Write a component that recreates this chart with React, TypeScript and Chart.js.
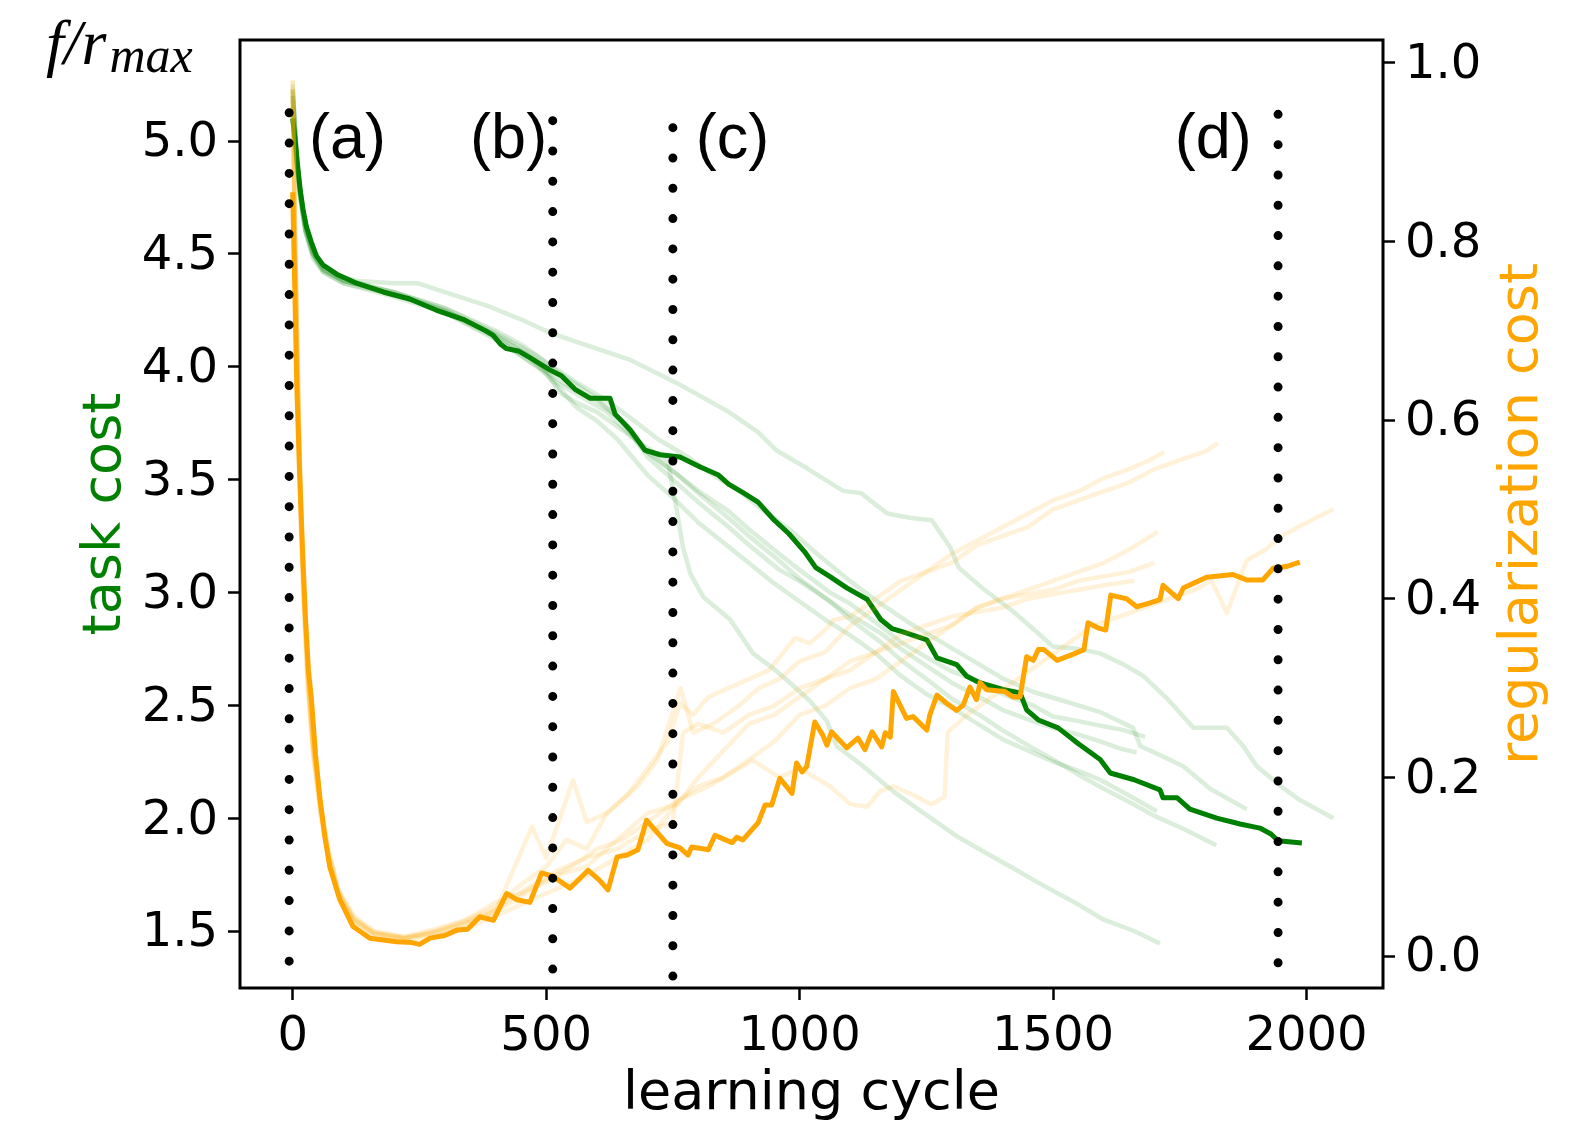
import React, { useEffect, useRef } from 'react';
import { Chart, registerables } from 'chart.js';

Chart.register(...registerables);

// ---------- axis limits & ticks ----------
const xLimits = [-104, 2151];
const taskLimits = [1.2475, 5.4475];
const regLimits = [-0.0358, 1.0254];
const xTicks = [0, 500, 1000, 1500, 2000];
const taskTicks = [1.5, 2.0, 2.5, 3.0, 3.5, 4.0, 4.5, 5.0];
const regTicks = [0.0, 0.2, 0.4, 0.6, 0.8, 1.0];

// ---------- main curves (learning cycle, value) ----------
const taskMain: number[][] = [
  [0, 5.10], [5, 5.0], [10, 4.88], [15, 4.78], [20, 4.70], [27, 4.62], [37, 4.55], [47, 4.49], [60, 4.45],
  [87, 4.41], [126, 4.37], [180, 4.33], [231, 4.30], [284, 4.25], [336, 4.21], [380, 4.16], [395, 4.14],
  [410, 4.10], [422, 4.08], [445, 4.07], [468, 4.04], [508, 3.985], [530, 3.96], [557, 3.90], [587, 3.86],
  [626, 3.86], [636, 3.79], [666, 3.72], [695, 3.63], [725, 3.61], [764, 3.60], [804, 3.556], [840, 3.52],
  [860, 3.48], [890, 3.44], [918, 3.40], [950, 3.32], [979, 3.26], [1010, 3.18], [1032, 3.11], [1060, 3.07],
  [1093, 3.02], [1133, 2.97], [1160, 2.88], [1182, 2.84], [1204, 2.825], [1251, 2.79], [1271, 2.71],
  [1310, 2.68], [1329, 2.63], [1355, 2.60], [1401, 2.57], [1435, 2.555], [1448, 2.48], [1471, 2.435],
  [1510, 2.40], [1550, 2.33], [1593, 2.26], [1613, 2.20], [1660, 2.17], [1711, 2.125], [1717, 2.09],
  [1745, 2.09], [1770, 2.04], [1823, 2.00], [1869, 1.974], [1908, 1.956], [1930, 1.93], [1944, 1.90],
  [1991, 1.89],
];

const regMain: number[][] = [
  [0, 0.855], [4, 0.75], [8, 0.64], [13, 0.55], [19, 0.46], [25, 0.38], [31, 0.32], [37, 0.287], [45, 0.225],
  [54, 0.175], [63, 0.135], [73, 0.10], [93, 0.063], [119, 0.033], [152, 0.020], [205, 0.016], [235, 0.015],
  [250, 0.013], [271, 0.020], [300, 0.023], [324, 0.029], [345, 0.030], [369, 0.044], [396, 0.040],
  [422, 0.070], [442, 0.063], [468, 0.060], [491, 0.093], [514, 0.089], [547, 0.076], [567, 0.087],
  [583, 0.096], [605, 0.085], [622, 0.074], [640, 0.111], [660, 0.113], [681, 0.119], [698, 0.152],
  [738, 0.126], [764, 0.121], [780, 0.113], [787, 0.122], [820, 0.119], [833, 0.135], [867, 0.127],
  [876, 0.133], [888, 0.130], [918, 0.149], [932, 0.169], [945, 0.169], [961, 0.199], [985, 0.182],
  [994, 0.216], [1005, 0.206], [1014, 0.212], [1030, 0.262], [1046, 0.247], [1054, 0.236], [1063, 0.251],
  [1093, 0.233], [1115, 0.244], [1129, 0.231], [1143, 0.251], [1162, 0.234], [1169, 0.250], [1179, 0.245],
  [1185, 0.296], [1211, 0.266], [1224, 0.268], [1251, 0.253], [1257, 0.270], [1271, 0.292], [1290, 0.283],
  [1310, 0.275], [1323, 0.281], [1336, 0.301], [1349, 0.287], [1356, 0.306], [1369, 0.298], [1405, 0.296],
  [1421, 0.290], [1435, 0.290], [1448, 0.335], [1461, 0.331], [1471, 0.343], [1482, 0.343], [1508, 0.331],
  [1540, 0.338], [1561, 0.343], [1569, 0.373], [1590, 0.367], [1604, 0.365], [1614, 0.404], [1645, 0.400],
  [1665, 0.391], [1690, 0.395], [1711, 0.399], [1717, 0.415], [1747, 0.400], [1757, 0.412], [1780, 0.418],
  [1803, 0.424], [1855, 0.427], [1882, 0.421], [1914, 0.421], [1934, 0.434], [1960, 0.436], [1987, 0.441],
];

// ---------- faint individual runs: task cost ----------
const taskRun1: number[][] = [
  [0, 5.25], [8, 4.95], [15, 4.78], [25, 4.64], [40, 4.52], [60, 4.45], [90, 4.40], [130, 4.38], [200, 4.37],
  [246, 4.37], [300, 4.33], [384, 4.27], [450, 4.21], [508, 4.15], [560, 4.11], [600, 4.08], [666, 4.03],
  [720, 3.97], [764, 3.92], [804, 3.87], [860, 3.80], [918, 3.71], [954, 3.63], [1007, 3.56], [1050, 3.50],
  [1086, 3.45], [1121, 3.44], [1173, 3.35], [1220, 3.33], [1261, 3.32], [1297, 3.20], [1314, 3.11],
  [1360, 3.02], [1419, 2.92], [1460, 2.84], [1500, 2.76], [1550, 2.75], [1593, 2.73], [1640, 2.68],
  [1678, 2.63], [1725, 2.53], [1777, 2.40], [1843, 2.40], [1875, 2.32], [1902, 2.23], [1950, 2.14],
  [1987, 2.08], [2053, 2.00],
];
const taskRun2: number[][] = [
  [0, 5.2], [8, 4.92], [15, 4.76], [25, 4.6], [40, 4.48], [60, 4.42], [100, 4.37], [200, 4.31], [300, 4.24],
  [400, 4.13], [450, 4.05], [500, 3.97], [530, 3.88], [560, 3.84], [600, 3.80], [650, 3.72], [700, 3.64],
  [740, 3.58], [755, 3.40], [770, 3.20], [785, 3.08], [810, 2.98], [863, 2.88], [908, 2.73], [950, 2.66],
  [981, 2.60], [1020, 2.52], [1054, 2.43], [1073, 2.32], [1120, 2.24], [1184, 2.12], [1240, 2.03],
  [1310, 1.92], [1380, 1.83], [1420, 1.78], [1474, 1.71], [1540, 1.63], [1600, 1.55], [1660, 1.50],
  [1711, 1.445],
];
const taskRun3: number[][] = [
  [0, 5.22], [8, 4.93], [15, 4.77], [25, 4.62], [40, 4.5], [60, 4.43], [100, 4.38], [200, 4.33], [300, 4.26],
  [400, 4.16], [450, 4.10], [500, 4.02], [560, 3.93], [620, 3.85], [680, 3.75], [720, 3.68], [780, 3.60],
  [830, 3.52], [880, 3.45], [930, 3.36], [980, 3.28], [1040, 3.16], [1100, 3.05], [1160, 2.95], [1220, 2.86],
  [1280, 2.78], [1340, 2.70], [1400, 2.62], [1460, 2.56], [1520, 2.52], [1593, 2.47], [1658, 2.40],
  [1672, 2.32], [1720, 2.27], [1757, 2.23], [1810, 2.13], [1850, 2.08], [1882, 2.04],
];
const taskRun4: number[][] = [
  [0, 5.18], [8, 4.9], [15, 4.75], [25, 4.6], [40, 4.5], [60, 4.43], [100, 4.38], [200, 4.33], [300, 4.25],
  [400, 4.14], [480, 4.03], [520, 3.93], [560, 3.88], [620, 3.80], [700, 3.62], [760, 3.52], [800, 3.45],
  [860, 3.36], [900, 3.28], [960, 3.17], [1000, 3.10], [1060, 3.0], [1100, 2.95], [1160, 2.85], [1200, 2.78],
  [1260, 2.70], [1300, 2.65], [1360, 2.60], [1400, 2.55], [1460, 2.50], [1500, 2.45], [1550, 2.43],
  [1593, 2.41], [1640, 2.39], [1682, 2.36],
];
const taskRun5: number[][] = [
  [0, 5.15], [8, 4.88], [15, 4.74], [25, 4.6], [40, 4.49], [60, 4.42], [100, 4.37], [200, 4.32], [300, 4.24],
  [400, 4.12], [470, 4.02], [540, 3.92], [600, 3.85], [650, 3.76], [700, 3.6], [740, 3.52], [800, 3.40],
  [860, 3.29], [900, 3.21], [960, 3.10], [1000, 3.05], [1060, 2.96], [1100, 2.90], [1160, 2.82], [1200, 2.75],
  [1260, 2.66], [1300, 2.60], [1360, 2.53], [1400, 2.48], [1460, 2.43], [1500, 2.40], [1550, 2.37],
  [1593, 2.34], [1630, 2.31], [1665, 2.29],
];
const taskRun6: number[][] = [
  [0, 5.2], [8, 4.9], [15, 4.75], [25, 4.61], [40, 4.5], [60, 4.43], [100, 4.38], [200, 4.32], [300, 4.25],
  [400, 4.14], [460, 4.06], [520, 3.92], [560, 3.82], [600, 3.76], [640, 3.68], [700, 3.52], [750, 3.42],
  [800, 3.31], [850, 3.22], [900, 3.13], [950, 3.04], [1000, 2.96], [1050, 2.88], [1100, 2.81], [1150, 2.73],
  [1200, 2.63], [1250, 2.55], [1300, 2.49], [1350, 2.42], [1400, 2.35], [1450, 2.30], [1500, 2.25],
  [1550, 2.21], [1593, 2.17], [1650, 2.10], [1705, 2.03],
];
const taskRun7: number[][] = [
  [0, 5.23], [8, 4.94], [15, 4.78], [25, 4.63], [40, 4.51], [60, 4.44], [100, 4.39], [200, 4.33], [300, 4.26],
  [400, 4.15], [480, 4.05], [540, 3.95], [600, 3.86], [660, 3.74], [700, 3.62], [760, 3.52], [800, 3.44],
  [860, 3.33], [900, 3.25], [960, 3.14], [1000, 3.06], [1060, 2.96], [1100, 2.88], [1160, 2.78], [1200, 2.70],
  [1260, 2.60], [1300, 2.53], [1360, 2.45], [1400, 2.39], [1460, 2.31], [1500, 2.26], [1560, 2.18],
  [1600, 2.13], [1660, 2.06], [1700, 2.01], [1760, 1.95], [1822, 1.88],
];

// ---------- faint individual runs: regularization cost ----------
const regRun1: number[][] = [
  [0, 0.98], [5, 0.80], [10, 0.66], [15, 0.53], [20, 0.44], [30, 0.32], [40, 0.24], [55, 0.17], [70, 0.12],
  [90, 0.075], [120, 0.045], [160, 0.028], [220, 0.022], [280, 0.03], [340, 0.04], [400, 0.055], [450, 0.08],
  [500, 0.10], [540, 0.13], [580, 0.12], [620, 0.16], [660, 0.18], [700, 0.21], [740, 0.24], [764, 0.283],
  [790, 0.27], [820, 0.29], [860, 0.30], [900, 0.31], [940, 0.32], [991, 0.356], [1020, 0.35], [1054, 0.367],
  [1066, 0.376], [1100, 0.38], [1150, 0.40], [1200, 0.42], [1250, 0.43], [1300, 0.44], [1350, 0.46],
  [1400, 0.47], [1450, 0.48], [1500, 0.50], [1550, 0.51], [1600, 0.52], [1650, 0.53], [1700, 0.545],
  [1750, 0.555], [1800, 0.565], [1825, 0.574],
];
const regRun2: number[][] = [
  [0, 0.97], [5, 0.79], [10, 0.65], [15, 0.52], [20, 0.43], [30, 0.31], [40, 0.235], [55, 0.165], [70, 0.115],
  [90, 0.072], [120, 0.042], [160, 0.026], [220, 0.02], [280, 0.025], [340, 0.035], [400, 0.05], [472, 0.145],
  [500, 0.11], [553, 0.197], [580, 0.15], [620, 0.16], [680, 0.19], [720, 0.22], [765, 0.30], [790, 0.25],
  [830, 0.26], [880, 0.28], [920, 0.30], [960, 0.31], [1000, 0.33], [1050, 0.34], [1100, 0.37], [1150, 0.39],
  [1200, 0.41], [1250, 0.43], [1300, 0.45], [1350, 0.465], [1400, 0.48], [1450, 0.495], [1500, 0.51],
  [1550, 0.52], [1600, 0.535], [1650, 0.545], [1690, 0.555], [1719, 0.564],
];
const regRun3: number[][] = [
  [0, 0.96], [5, 0.78], [10, 0.64], [15, 0.51], [20, 0.42], [30, 0.30], [40, 0.23], [55, 0.16], [70, 0.11],
  [90, 0.07], [120, 0.04], [160, 0.025], [220, 0.02], [280, 0.028], [340, 0.04], [400, 0.06], [450, 0.07],
  [500, 0.085], [550, 0.10], [600, 0.12], [650, 0.13], [700, 0.15], [750, 0.17], [800, 0.19], [850, 0.20],
  [900, 0.22], [950, 0.24], [1000, 0.27], [1050, 0.28], [1100, 0.30], [1150, 0.31], [1200, 0.33],
  [1250, 0.35], [1300, 0.37], [1350, 0.39], [1400, 0.40], [1450, 0.41], [1500, 0.42], [1550, 0.43],
  [1600, 0.44], [1650, 0.455], [1707, 0.475],
];
const regRun4: number[][] = [
  [0, 0.95], [5, 0.77], [10, 0.63], [15, 0.50], [20, 0.41], [30, 0.30], [40, 0.225], [55, 0.16], [70, 0.11],
  [90, 0.068], [120, 0.038], [160, 0.022], [220, 0.018], [280, 0.022], [340, 0.03], [400, 0.045], [460, 0.06],
  [520, 0.075], [580, 0.09], [640, 0.11], [700, 0.13], [764, 0.175], [820, 0.19], [908, 0.219], [960, 0.20],
  [1000, 0.21], [1060, 0.19], [1100, 0.17], [1133, 0.167], [1160, 0.185], [1185, 0.19], [1225, 0.18],
  [1260, 0.17], [1286, 0.178], [1292, 0.25], [1330, 0.27], [1380, 0.29], [1430, 0.31], [1480, 0.33],
  [1530, 0.35], [1580, 0.37], [1630, 0.38], [1680, 0.39], [1730, 0.40], [1780, 0.41], [1813, 0.42],
  [1843, 0.384], [1882, 0.443], [1920, 0.455], [1947, 0.469], [2000, 0.485], [2053, 0.50],
];
const regRun5: number[][] = [
  [0, 0.97], [5, 0.79], [10, 0.65], [15, 0.52], [20, 0.43], [30, 0.31], [40, 0.235], [55, 0.165], [70, 0.115],
  [90, 0.07], [120, 0.04], [160, 0.025], [220, 0.02], [280, 0.026], [340, 0.036], [400, 0.05], [460, 0.07],
  [520, 0.09], [580, 0.10], [640, 0.13], [700, 0.16], [760, 0.17], [800, 0.20], [850, 0.23], [900, 0.26],
  [950, 0.27], [1000, 0.29], [1050, 0.31], [1100, 0.32], [1150, 0.34], [1200, 0.35], [1250, 0.36],
  [1300, 0.37], [1350, 0.39], [1400, 0.40], [1450, 0.405], [1500, 0.41], [1550, 0.42], [1600, 0.425],
  [1650, 0.43], [1700, 0.44],
];
const regRun6: number[][] = [
  [0, 0.98], [5, 0.80], [10, 0.66], [15, 0.53], [20, 0.44], [30, 0.32], [40, 0.24], [55, 0.17], [70, 0.12],
  [90, 0.073], [120, 0.043], [160, 0.027], [220, 0.021], [280, 0.027], [340, 0.038], [400, 0.052],
  [460, 0.075], [520, 0.095], [580, 0.11], [640, 0.12], [700, 0.14], [750, 0.15], [770, 0.25], [800, 0.26],
  [850, 0.25], [900, 0.27], [950, 0.28], [1000, 0.30], [1050, 0.31], [1100, 0.33], [1150, 0.34], [1200, 0.36],
  [1250, 0.37], [1300, 0.38], [1350, 0.385], [1400, 0.39], [1450, 0.40], [1500, 0.405], [1550, 0.41],
  [1600, 0.415], [1660, 0.42],
];

const taskRuns = [taskRun1, taskRun2, taskRun3, taskRun4, taskRun5, taskRun6, taskRun7];
const regRuns = [regRun1, regRun2, regRun3, regRun4, regRun5, regRun6];

// ---------- snapshot markers (a)-(d) ----------
const markerCycles = [-7, 513, 750, 1944];
const markerTop = [5.125, 5.09, 5.059, 5.118];
const markerBottom = [1.363, 1.327, 1.296, 1.357];
const panelLabels = ['(a)', '(b)', '(c)', '(d)'];
const panelLabelCycles = [32, 350, 795, 1740];
const panelLabelTask = 4.925;

const GREEN = '#008000';
const ORANGE = '#FFA500';
const GREEN_FAINT = 'rgba(0,128,0,0.14)';
const ORANGE_FAINT = 'rgba(255,165,0,0.15)';

const toPts = (arr: number[][]) => arr.map(([x, y]) => ({ x, y }));

const decorPlugin = {
  id: 'decor',
  afterDraw(chart: any) {
    const { ctx, chartArea, scales } = chart;
    ctx.save();
    // frame
    ctx.strokeStyle = '#000';
    ctx.lineWidth = 3;
    ctx.strokeRect(chartArea.left, chartArea.top, chartArea.right - chartArea.left, chartArea.bottom - chartArea.top);

    const midY = (chartArea.top + chartArea.bottom) / 2;
    // left title
    ctx.font = '54px "DejaVu Sans"';
    ctx.fillStyle = GREEN;
    ctx.textAlign = 'center';
    ctx.textBaseline = 'alphabetic';
    ctx.save();
    ctx.translate(120, midY);
    ctx.rotate(-Math.PI / 2);
    ctx.fillText('task cost', 0, 0);
    ctx.restore();
    // right title
    ctx.fillStyle = ORANGE;
    ctx.save();
    ctx.translate(1537, midY);
    ctx.rotate(-Math.PI / 2);
    ctx.fillText('regularization cost', 0, 0);
    ctx.restore();
    // bottom title
    ctx.fillStyle = '#000';
    ctx.fillText('learning cycle', (chartArea.left + chartArea.right) / 2, 1109);

    // f / r_max
    ctx.textAlign = 'left';
    ctx.font = 'italic 64px "Liberation Serif"';
    ctx.fillText('f/r', 46, 64);
    const w = ctx.measureText('f/r').width;
    ctx.font = 'italic 50px "Liberation Serif"';
    ctx.fillText('max', 46 + w + 3, 72);

    // panel labels
    ctx.font = '63px "Liberation Sans"';
    ctx.fillStyle = '#000';
    const yPix = scales.y.getPixelForValue(panelLabelTask);
    panelLabels.forEach((t, i) => {
      ctx.fillText(t, scales.x.getPixelForValue(panelLabelCycles[i]), yPix);
    });
    ctx.restore();
  },
};

export default function App() {
  const ref = useRef<HTMLCanvasElement | null>(null);

  useEffect(() => {
    if (!ref.current) return;
    const tickFont = { family: 'DejaVu Sans', size: 48 };
    const gridCfg = {
      drawOnChartArea: false,
      drawTicks: true,
      tickLength: 12,
      tickWidth: 2.5,
      tickColor: '#000',
    };

    const datasets: any[] = [];
    markerCycles.forEach((c, i) => {
      datasets.push({
        data: [{ x: c, y: markerTop[i] }, { x: c, y: markerBottom[i] }],
        yAxisID: 'y',
        borderColor: '#000',
        borderWidth: 9,
        borderDash: [0, 30.3],
        borderCapStyle: 'round',
        pointRadius: 0,
        order: 0,
      });
    });
    datasets.push({
      data: toPts(regMain), yAxisID: 'y1', borderColor: ORANGE, borderWidth: 5,
      pointRadius: 0, order: 1, borderJoinStyle: 'round',
    });
    regRuns.forEach((r) => datasets.push({
      data: toPts(r), yAxisID: 'y1', borderColor: ORANGE_FAINT, borderWidth: 4.5,
      pointRadius: 0, order: 2, borderJoinStyle: 'round',
    }));
    datasets.push({
      data: toPts(taskMain), yAxisID: 'y', borderColor: GREEN, borderWidth: 5,
      pointRadius: 0, order: 3, borderJoinStyle: 'round',
    });
    taskRuns.forEach((r) => datasets.push({
      data: toPts(r), yAxisID: 'y', borderColor: GREEN_FAINT, borderWidth: 4.5,
      pointRadius: 0, order: 4, borderJoinStyle: 'round',
    }));

    const chart = new Chart(ref.current, {
      type: 'line',
      data: { datasets },
      plugins: [decorPlugin],
      options: {
        animation: false,
        responsive: false,
        maintainAspectRatio: false,
        layout: { padding: { top: 40, left: 0, right: 0, bottom: 0 } },
        plugins: { legend: { display: false }, tooltip: { enabled: false } },
        elements: { line: { tension: 0, fill: false } },
        scales: {
          x: {
            type: 'linear',
            min: xLimits[0],
            max: xLimits[1],
            grid: gridCfg,
            border: { display: false },
            ticks: { font: tickFont, color: '#000', padding: 9, maxRotation: 0, callback: (v: any) => String(v) },
            afterBuildTicks: (s: any) => { s.ticks = xTicks.map((v) => ({ value: v })); },
            afterFit: (s: any) => { s.height = 138; },
          },
          y: {
            type: 'linear',
            position: 'left',
            min: taskLimits[0],
            max: taskLimits[1],
            grid: gridCfg,
            border: { display: false },
            ticks: { font: tickFont, color: '#000', padding: 10, labelOffset: 3, callback: (v: any) => Number(v).toFixed(1) },
            afterBuildTicks: (s: any) => { s.ticks = taskTicks.map((v) => ({ value: v })); },
            afterFit: (s: any) => { s.width = 240; },
          },
          y1: {
            type: 'linear',
            position: 'right',
            min: regLimits[0],
            max: regLimits[1],
            grid: gridCfg,
            border: { display: false },
            ticks: { font: tickFont, color: '#000', padding: 10, labelOffset: 3, callback: (v: any) => Number(v).toFixed(1) },
            afterBuildTicks: (s: any) => { s.ticks = regTicks.map((v) => ({ value: v })); },
            afterFit: (s: any) => { s.width = 190; },
          },
        },
      } as any,
    });
    return () => chart.destroy();
  }, []);

  return (
    <div style={{ position: 'absolute', left: 0, top: 0, width: 1573, height: 1126, background: '#fff' }}>
      <canvas ref={ref} width={1573} height={1126} style={{ width: 1573, height: 1126, display: 'block' }} />
    </div>
  );
}
